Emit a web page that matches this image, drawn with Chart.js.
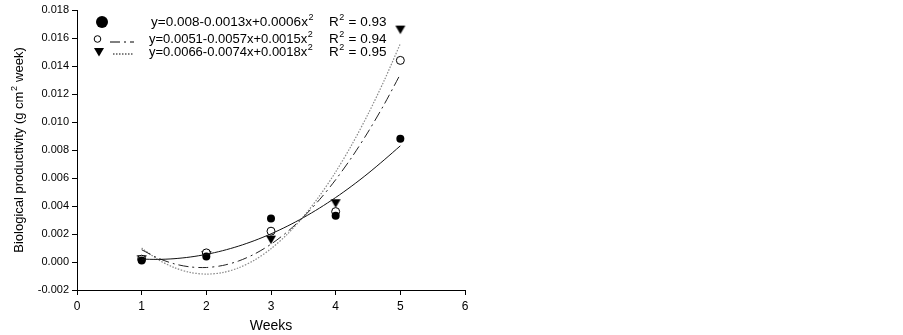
<!DOCTYPE html>
<html>
<head>
<meta charset="utf-8">
<script src="https://cdn.jsdelivr.net/npm/chart.js"></script>
<style>
  html, body { margin: 0; padding: 0; background: #fff; }
  #wrap { width: 903px; height: 335px; }
</style>
</head>
<body>
<div id="wrap"><canvas id="chart" width="903" height="335"></canvas></div>
<script>
// measured points
const weeks = [1, 2, 3, 4, 5];
const filledVals = [0.0001, 0.0004, 0.0031, 0.0033, 0.0088];
const openVals = [0.0002, 0.00065, 0.0022, 0.0036, 0.0144];
const triVals = [0.0002, 0.0005, 0.0016, 0.0042, 0.0166];

// fitted curves, every 0.25 week
const fitX = [1, 1.25, 1.5, 1.75, 2, 2.25, 2.5, 2.75, 3, 3.25, 3.5, 3.75, 4, 4.25, 4.5, 4.75, 5];
const fitSolid = [0.000208, 0.000186, 0.000235, 0.000355, 0.000545, 0.000806, 0.001137, 0.001539, 0.002011,
                  0.002554, 0.003167, 0.003851, 0.004605, 0.00543, 0.006325, 0.007291, 0.008298];
const fitDashDot = [0.000876, 0.000284, -0.000126, -0.000351, -0.000393, -0.000251, 0.000073, 0.000582, 0.001274,
                    0.00215, 0.003209, 0.004451, 0.005877, 0.007487, 0.00928, 0.011256, 0.013416];
const fitDotted = [0.000993, 0.000184, -0.000395, -0.000745, -0.000865, -0.000756, -0.000417, 0.000151, 0.000949,
                   0.001977, 0.003233, 0.00472, 0.006435, 0.008381, 0.010555, 0.01296, 0.015593];

const legendRows = [
  { eq: 'y=0.008-0.0013x+0.0006x', r2: '0.93' },
  { eq: 'y=0.0051-0.0057x+0.0015x', r2: '0.94' },
  { eq: 'y=0.0066-0.0074x+0.0018x', r2: '0.95' }
];

const FONT = '"Liberation Sans", Arial, sans-serif';

function pts(xs, ys) {
  return xs.map((x, i) => ({ x: x, y: ys[i] }));
}

// triangle pointing down
function triangleDown(size) {
  const c = document.createElement('canvas');
  c.width = size * 2 + 2; c.height = size * 2 + 2;
  const g = c.getContext('2d');
  const m = size + 1;
  g.fillStyle = '#000';
  g.beginPath();
  g.moveTo(m - size, m - size * 0.8);
  g.lineTo(m + size, m - size * 0.8);
  g.lineTo(m, m + size * 0.9);
  g.closePath();
  g.fill();
  return c;
}
const triImg = triangleDown(5);

// text with a small raised "2" after the main part
function supText(ctx, main, after, x, y, size) {
  ctx.font = size + 'px ' + FONT;
  ctx.fillText(main, x, y);
  const w = ctx.measureText(main).width;
  ctx.font = Math.round(size * 0.68) + 'px ' + FONT;
  ctx.fillText('2', x + w + 0.5, y - size * 0.32);
  const w2 = ctx.measureText('2').width;
  if (after) {
    ctx.font = size + 'px ' + FONT;
    ctx.fillText(after, x + w + w2 + 1, y);
  }
}

// legend with equations drawn in the plot corner, plus the y title
const legendPlugin = {
  id: 'eqLegend',
  afterDraw(chart) {
    const ctx = chart.ctx;
    ctx.save();
    const rowsY = [22, 39, 52];
    // symbols
    ctx.fillStyle = '#000';
    ctx.beginPath(); ctx.arc(102, rowsY[0], 6, 0, Math.PI * 2); ctx.fill();
    ctx.strokeStyle = '#000'; ctx.lineWidth = 1;
    ctx.beginPath(); ctx.arc(97.5, rowsY[1], 3.3, 0, Math.PI * 2); ctx.stroke();
    ctx.setLineDash([10, 4, 2, 4]);
    ctx.beginPath(); ctx.moveTo(110, rowsY[1] + 3); ctx.lineTo(134, rowsY[1] + 3); ctx.stroke();
    ctx.drawImage(triImg, 99 - 6, rowsY[2] - 6);
    ctx.setLineDash([1.5, 1.5]);
    ctx.beginPath(); ctx.moveTo(113, rowsY[2] + 2); ctx.lineTo(134, rowsY[2] + 2); ctx.stroke();
    ctx.setLineDash([]);

    // texts
    ctx.textBaseline = 'middle';
    ctx.textAlign = 'left';
    legendRows.forEach((r, i) => {
      const y = rowsY[i];
      supText(ctx, r.eq, '', i === 0 ? 151 : 149, y, i === 0 ? 13.5 : 13);
      supText(ctx, 'R', ' = ' + r.r2, 329, y, 13.5);
    });

    // y axis title
    ctx.translate(19, 150);
    ctx.rotate(-Math.PI / 2);
    ctx.textAlign = 'left';
    const a = 'Biological productivity (g cm';
    const b = ' week)';
    ctx.font = '13px ' + FONT;
    const wa = ctx.measureText(a).width, wb = ctx.measureText(b).width;
    ctx.font = '9px ' + FONT;
    const ws = ctx.measureText('2').width;
    const x0 = -(wa + ws + wb + 1) / 2;
    supText(ctx, a, b, x0, 0, 13);
    ctx.restore();
  }
};

new Chart(document.getElementById('chart'), {
  type: 'scatter',
  data: {
    datasets: [
      { data: pts(fitX, fitSolid), showLine: true, borderColor: '#111', borderWidth: 1,
        pointRadius: 0, tension: 0.3 },
      { data: pts(fitX, fitDashDot), showLine: true, borderColor: '#222', borderWidth: 1,
        borderDash: [10, 4, 2, 4], pointRadius: 0, tension: 0.3 },
      { data: pts(fitX, fitDotted), showLine: true, borderColor: '#888', borderWidth: 1.2,
        borderDash: [1.5, 1.5], pointRadius: 0, tension: 0.3 },
      { data: pts(weeks, filledVals), pointStyle: 'circle', pointRadius: 4,
        backgroundColor: '#000', borderColor: '#000', borderWidth: 0 },
      { data: pts(weeks, openVals), pointStyle: 'circle', pointRadius: 4,
        backgroundColor: '#fff', borderColor: '#000', borderWidth: 1 },
      { data: pts(weeks, triVals), pointStyle: triImg, pointRadius: 5 }
    ]
  },
  options: {
    responsive: false,
    animation: false,
    layout: { padding: { left: 0, right: 438, top: 10, bottom: 0 } },
    plugins: { legend: { display: false }, tooltip: { enabled: false } },
    scales: {
      x: {
        type: 'linear', min: 0, max: 6,
        afterFit: s => { s.height = 45; },
        grid: { drawOnChartArea: false, tickLength: 5, color: '#000' },
        border: { color: '#000', width: 1 },
        ticks: { stepSize: 1, color: '#000', padding: 4, maxRotation: 0,
                  font: { family: FONT, size: 12 } },
        title: { display: true, text: 'Weeks', color: '#000', padding: { top: 9, bottom: 0 },
                 font: { family: FONT, size: 14 } }
      },
      y: {
        min: -0.002, max: 0.018,
        afterFit: s => { s.width = 77; },
        grid: { drawOnChartArea: false, tickLength: 5, color: '#000' },
        border: { color: '#000', width: 1 },
        ticks: { stepSize: 0.002, color: '#000', padding: 3,
                 callback: v => (Math.abs(v) < 1e-9 ? 0 : v).toFixed(3),
                 font: { family: FONT, size: 11 } }
      }
    }
  },
  plugins: [legendPlugin]
});
</script>
</body>
</html>
